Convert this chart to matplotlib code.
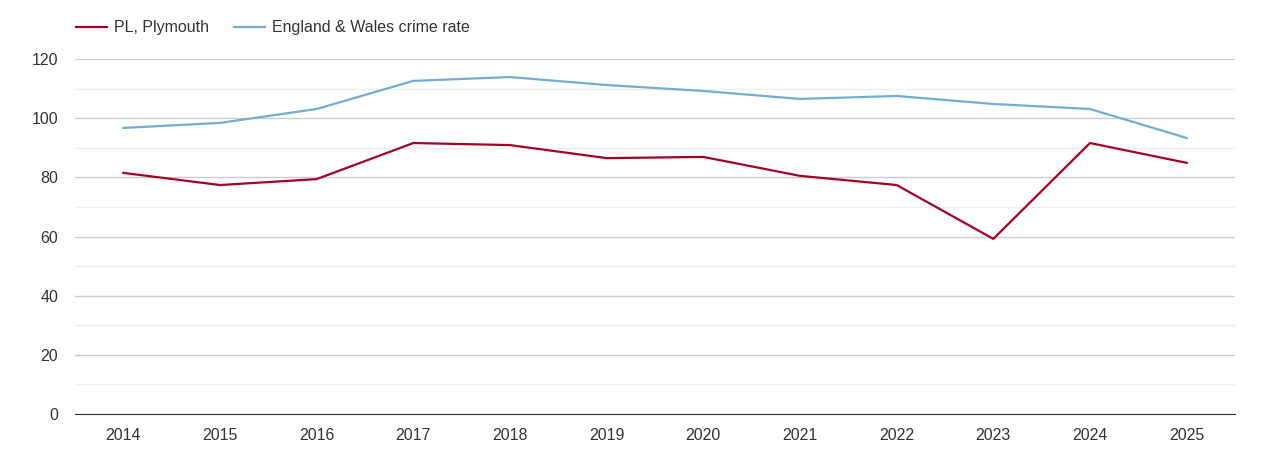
import matplotlib
matplotlib.use("Agg")
import matplotlib.pyplot as plt

plt.rcParams['font.family'] = ['Liberation Sans', 'DejaVu Sans']

years = ["2014", "2015", "2016", "2017", "2018", "2019", "2020", "2021", "2022", "2023", "2024", "2025"]
plymouth = [81.5, 77.4, 79.4, 91.6, 90.9, 86.5, 86.9, 80.5, 77.4, 59.2, 91.6, 84.9]
england_wales = [96.7, 98.4, 103.1, 112.6, 113.9, 111.2, 109.2, 106.5, 107.5, 104.8, 103.1, 93.3]

fig = plt.figure(figsize=(12.7, 4.5), dpi=100)
ax = fig.add_axes([75/1270, 1 - 414/450, (1235-75)/1270, (414-59)/450])

x = list(range(len(years)))
ax.plot(x, plymouth, color="#a50026", lw=1.6, label="PL, Plymouth")
ax.plot(x, england_wales, color="#74add1", lw=1.6, label="England & Wales crime rate")

ax.set_xlim(-0.5, len(years) - 0.5)
ax.set_ylim(0, 120)
ax.set_xticks(x)
ax.set_xticklabels(years)
ax.set_yticks(range(0, 121, 20))
ax.set_yticks(range(10, 120, 20), minor=True)
ax.grid(axis="y", which="major", color="#cccccc", lw=1)
ax.grid(axis="y", which="minor", color="#eeeeee", lw=1)
ax.set_axisbelow(True)
ax.tick_params(axis="both", which="both", length=0, labelsize=11.5, colors="#333333")
ax.tick_params(axis="x", pad=10)
ax.tick_params(axis="y", pad=12)
for s in ["top", "right", "left"]:
    ax.spines[s].set_visible(False)
ax.spines["bottom"].set_color("#333333")

leg = fig.legend(loc="upper left", bbox_to_anchor=(62/1270, 1 - 6/450), ncol=2, frameon=False,
                 fontsize=11.5, handlelength=1.9, columnspacing=1.6, handletextpad=0.45)
for t in leg.get_texts():
    t.set_color("#333333")

fig.savefig("out.png", dpi=100)
